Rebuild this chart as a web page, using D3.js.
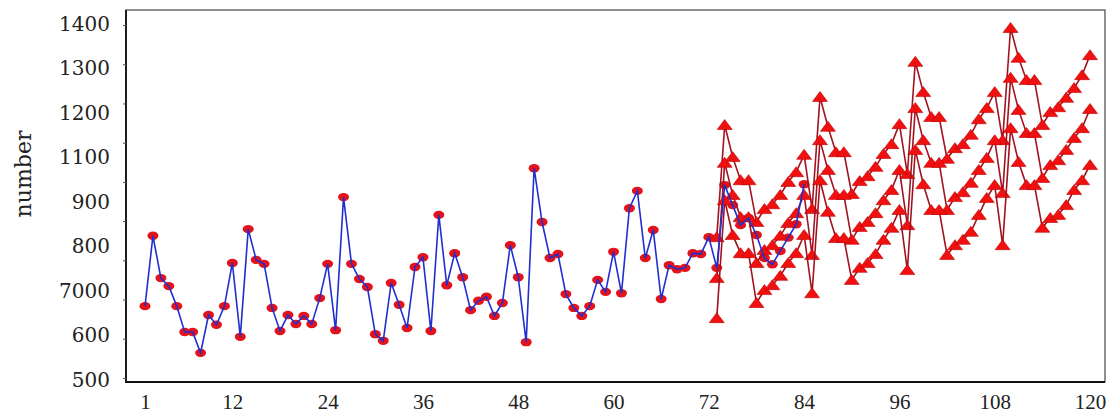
<!DOCTYPE html>
<html>
<head>
<meta charset="utf-8">
<script src="https://cdn.jsdelivr.net/npm/d3@7"></script>
<style>
  body { margin: 0; background: #fff; }
</style>
</head>
<body>
<svg id="chart" width="1118" height="419"></svg>
<script>
// observed monthly series, t = 1 .. 84
const actual = [666, 824, 729, 711, 666, 608, 608, 561, 646, 624, 666, 763,
                597, 839, 770, 761, 662, 610, 646, 626, 644, 626, 684, 761,
                612, 911, 761, 727, 709, 603, 588, 718, 669, 617, 754, 776,
                610, 871, 713, 785, 731, 657, 678, 687, 644, 673, 803, 731,
                585, 976, 855, 774, 783, 693, 662, 644, 666, 725, 698, 788,
                695, 886, 925, 774, 837, 682, 758, 749, 752, 785, 783, 821,
                752, 938, 893, 848, 864, 826, 774, 760, 790, 820, 850, 940];

// forecast lines, t = 73 .. 120
const forecastStart = 73;
const upper = [821, 1073, 1001, 949, 949, 855, 884, 895, 916, 945, 967, 1006,
               884, 1136, 1069, 1012, 1012, 918, 947, 958, 979, 1008, 1030, 1075,
               963, 1215, 1147, 1091, 1091, 997, 1021, 1030, 1051, 1086, 1111, 1147,
               1039, 1291, 1224, 1174, 1174, 1073, 1102, 1113, 1134, 1156, 1185, 1230];
const middle = [729, 988, 916, 866, 866, 763, 792, 803, 824, 853, 875, 916,
                781, 1039, 972, 916, 916, 815, 844, 855, 875, 904, 927, 972,
                848, 1111, 1039, 988, 988, 882, 911, 922, 943, 972, 999, 1039,
                920, 1179, 1107, 1055, 1055, 954, 983, 994, 1017, 1044, 1066, 1109];
const lower = [639, 904, 826, 785, 785, 673, 702, 713, 734, 763, 785, 826,
               695, 949, 878, 819, 819, 725, 752, 763, 783, 815, 842, 882,
               747, 1017, 940, 882, 882, 781, 803, 815, 833, 871, 909, 938,
               803, 1066, 990, 938, 938, 842, 864, 871, 893, 927, 949, 983];

const xTicks = [1, 12, 24, 36, 48, 60, 72, 84, 96, 108, 120];
const yTicks = [500, 600, 700, 800, 900, 1000, 1100, 1200, 1300];
const yTickLabels = ["500", "600", "7000", "800", "900", "1100", "1200", "1300", "1400"];

const svg = d3.select("#chart");
const frame = {left: 126, right: 1105, top: 10, bottom: 382};

const x = d3.scaleLinear().domain([1, 120]).range([145, 1090]);
const y = d3.scaleLinear().domain([500, 1300]).range([380, 24]);

// plot frame
svg.append("rect")
  .attr("x", frame.left).attr("y", frame.top)
  .attr("width", frame.right - frame.left).attr("height", frame.bottom - frame.top)
  .attr("fill", "none").attr("stroke", "#444").attr("stroke-width", 1.2);
svg.append("path")
  .attr("d", `M${frame.left},${frame.top}V${frame.bottom}H${frame.right}`)
  .attr("fill", "none").attr("stroke", "#111").attr("stroke-width", 1.8);

// little tick marks on the left edge
const minorScale = d3.scaleLinear().domain([0, 9]).range([378, 25]);
svg.append("g")
  .attr("transform", `translate(${frame.left},0)`)
  .call(d3.axisLeft(minorScale).ticks(9).tickSize(3).tickFormat(""))
  .call(g => g.select(".domain").remove())
  .call(g => g.selectAll("line").attr("stroke", "#555"));

// y labels
svg.append("g")
  .attr("transform", `translate(${frame.left},0)`)
  .call(d3.axisLeft(y).tickValues(yTicks).tickSize(0).tickPadding(16)
    .tickFormat((d, i) => yTickLabels[i]))
  .call(g => g.select(".domain").remove())
  .call(g => g.selectAll("text")
    .attr("font-family", "DejaVu Serif").attr("font-size", 20).attr("fill", "#222"));

// x labels
svg.append("g")
  .attr("transform", `translate(0,${frame.bottom})`)
  .call(d3.axisBottom(x).tickValues(xTicks).tickSize(0).tickPadding(12).tickFormat(d3.format("d")))
  .call(g => g.select(".domain").remove())
  .call(g => g.selectAll("text")
    .attr("font-family", "Liberation Serif").attr("font-size", 21).attr("fill", "#222"));

svg.append("text")
  .attr("transform", "translate(31,174) rotate(-90)")
  .attr("text-anchor", "middle")
  .attr("font-family", "DejaVu Serif").attr("font-size", 22).attr("fill", "#222")
  .text("number");

const actualPts = actual.map((v, i) => ({t: i + 1, v: v}));
const line = d3.line().x(d => x(d.t)).y(d => y(d.v));

// red dots of observed data
svg.append("g").selectAll("ellipse")
  .data(actualPts).enter().append("ellipse")
  .attr("cx", d => x(d.t)).attr("cy", d => y(d.v))
  .attr("rx", 5.5).attr("ry", 4.2)
  .attr("fill", "#e3121b");

// forecast lines
const series = [upper, middle, lower];
const tri = "M0,-5.5L7.5,4.5L-7.5,4.5Z";
series.forEach(s => {
  const pts = s.map((v, i) => ({t: forecastStart + i, v: v}));
  svg.append("path").datum(pts)
    .attr("d", line)
    .attr("fill", "none").attr("stroke", "#a3121f").attr("stroke-width", 1.6);
  svg.append("g").selectAll("path")
    .data(pts).enter().append("path")
    .attr("d", tri)
    .attr("transform", d => `translate(${x(d.t)},${y(d.v)})`)
    .attr("fill", "#f01010").attr("stroke", "#c00000").attr("stroke-width", 0.6);
});

// blue observed line on top
svg.append("path").datum(actualPts)
  .attr("d", line)
  .attr("fill", "none").attr("stroke", "#1f2fd0").attr("stroke-width", 1.6);
</script>
</body>
</html>
